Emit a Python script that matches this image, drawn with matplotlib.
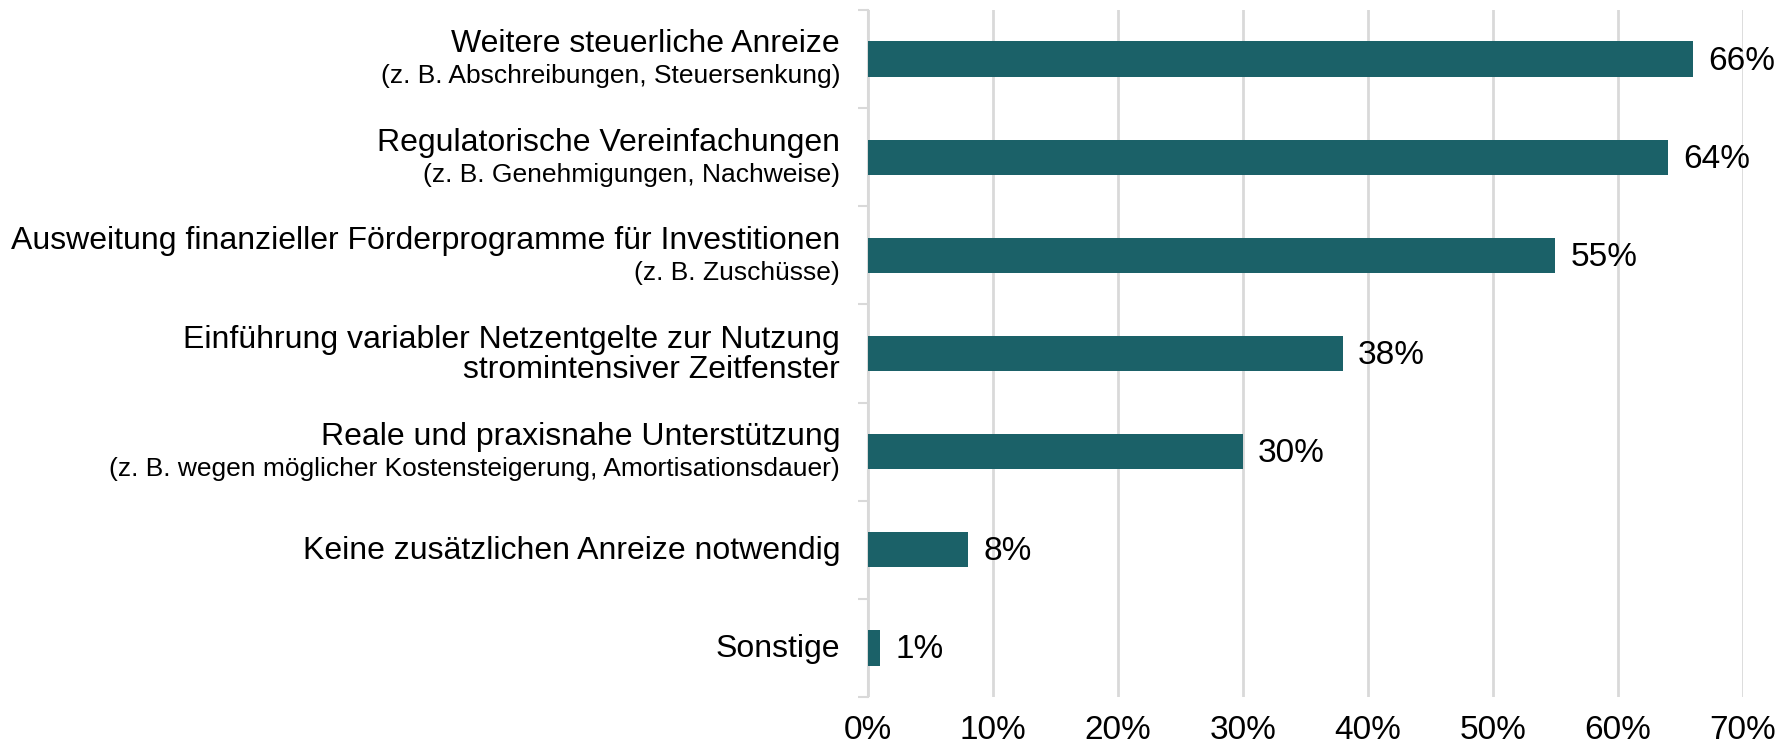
import matplotlib.pyplot as plt
import numpy as np

# Data (top to bottom)
main_labels = [
    "Weitere steuerliche Anreize",
    "Regulatorische Vereinfachungen",
    "Ausweitung finanzieller Förderprogramme für Investitionen",
    "Einführung variabler Netzentgelte zur Nutzung\nstromintensiver Zeitfenster",
    "Reale und praxisnahe Unterstützung",
    "Keine zusätzlichen Anreize notwendig",
    "Sonstige",
]
sub_labels = [
    "(z. B. Abschreibungen, Steuersenkung)",
    "(z. B. Genehmigungen, Nachweise)",
    "(z. B. Zuschüsse)",
    "",
    "(z. B. wegen möglicher Kostensteigerung, Amortisationsdauer)",
    "",
    "",
]
values = [66, 64, 55, 38, 30, 8, 1]
xticks = [0, 10, 20, 30, 40, 50, 60, 70]

plt.rcParams['font.family'] = ['Liberation Sans', 'DejaVu Sans']

bar_color = '#1b6168'
grid_color = '#d9d9d9'

fig = plt.figure(figsize=(17.82, 7.5), dpi=100)
ax = fig.add_axes([0.487, 0.0707, 0.491, 0.916])

y = np.arange(len(values))
ax.barh(y, values, height=0.36, color=bar_color, zorder=3)

ax.set_xlim(0, 70)
ax.set_ylim(len(values) - 0.5, -0.5)

# gridlines
ax.set_xticks(xticks)
ax.set_xticklabels([f"{t}%" for t in xticks], fontsize=24)
ax.xaxis.grid(True, color=grid_color, linewidth=2, zorder=0)
ax.tick_params(axis='x', length=0, pad=13)

# y-axis: boundary ticks only
ax.set_yticks(np.arange(len(values) + 1) - 0.5)
ax.set_yticklabels([])
ax.tick_params(axis='y', length=7.5, width=1.5, color=grid_color)

for s in ['top', 'right', 'bottom']:
    ax.spines[s].set_visible(False)
ax.spines['left'].set_color(grid_color)
ax.spines['left'].set_linewidth(1.5)

# category labels
trans = ax.get_yaxis_transform()
for i, (m, s) in enumerate(zip(main_labels, sub_labels)):
    if s:
        ax.annotate(m, xy=(0, i), xycoords=trans, xytext=(-20, 10.5),
                    textcoords='offset points', ha='right', va='center', fontsize=23)
        ax.annotate(s, xy=(0, i), xycoords=trans, xytext=(-20, -12.5),
                    textcoords='offset points', ha='right', va='center', fontsize=19)
    else:
        ax.annotate(m, xy=(0, i), xycoords=trans, xytext=(-20, -1),
                    textcoords='offset points', ha='right', va='center', fontsize=23,
                    linespacing=1.0)

# value labels
for i, v in enumerate(values):
    ax.annotate(f"{v}%", xy=(v, i), xytext=(11, -1.5), textcoords='offset points',
                ha='left', va='center', fontsize=24)

fig.savefig('out.png', dpi=100)
